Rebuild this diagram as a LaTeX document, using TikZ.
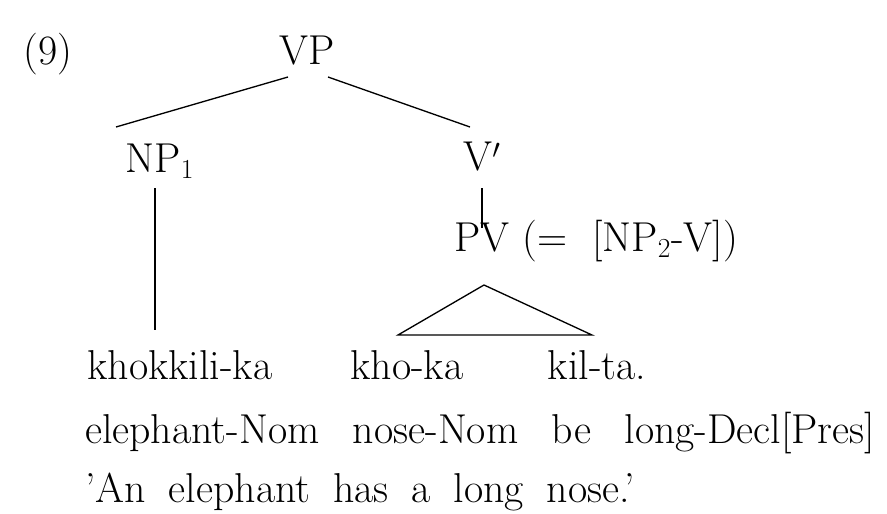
\documentclass[tikz,border=0pt]{standalone}
\begin{document}
\begin{tikzpicture}[x=0.0265cm,y=-0.0265cm,
  t/.style={inner sep=0pt,anchor=base,font=\fontsize{31.5}{36}\selectfont},
  tw/.style={t,anchor=base west},
  l/.style={line width=1pt}]
\useasboundingbox (0,0) rectangle (887,514);
\node[t] (ex) at (48,64) {(9)};
\node[t] (vp) at (307,64) {VP};
\node[t] (np1) at (160,172) {NP$_1$};
\node[t] (vb) at (482,170) {V$'$};
\node[t] (pv) at (482,251) {PV};
\node[tw] (eq) at (522,251) {(= \ [NP$_2$-V])};
\node[t] (w1) at (180,379) {khokkili-ka};
\node[t] (w2) at (407,379) {kho-ka};
\node[t] (w3) at (597,379) {kil-ta.};
\node[tw] (g) at (85,443) {elephant-Nom\hspace{0.8em}nose-Nom\hspace{0.8em}be\hspace{0.8em}long-Decl[Pres]};
\node[tw] (tr) at (85,502) {'An\hspace{0.55em}elephant\hspace{0.55em}has\hspace{0.55em}a\hspace{0.55em}long\hspace{0.55em}nose.'};
\coordinate (a) at (288,77);
\coordinate (b) at (328,77);
\coordinate (c) at (116,127);
\coordinate (d) at (470,127);
\coordinate (e) at (155,188);
\coordinate (f) at (155,330);
\coordinate (g1) at (482,188);
\coordinate (g2) at (482,228);
\coordinate (p) at (484,285);
\coordinate (q) at (398,335);
\coordinate (r) at (592,335);
\draw[l] (a) -- (c);
\draw[l] (b) -- (d);
\draw[l] (e) -- (f);
\draw[l] (g1) -- (g2);
\draw[l] (q) -- (p) -- (r) -- cycle;
\end{tikzpicture}
\end{document}
